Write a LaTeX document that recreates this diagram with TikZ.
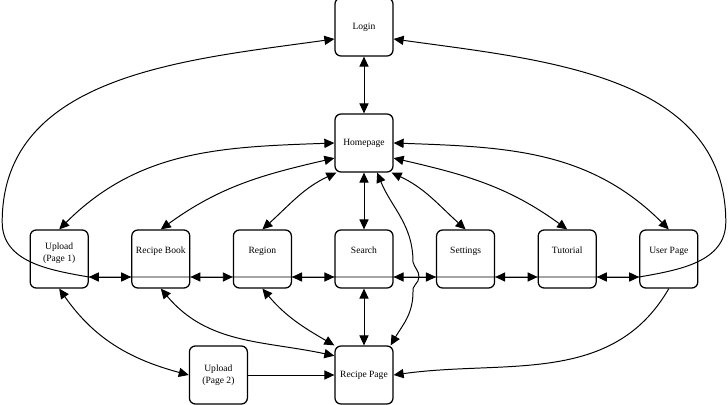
\documentclass[tikz,border=0pt]{standalone}
\usepackage{fontspec}
\setmainfont{Liberation Serif}
\usetikzlibrary{arrows.meta}

\tikzset{
    >={Triangle[length=2.5mm, width=2.3mm]},
    box/.style    = {draw, fill=white, rounded corners=1.5mm, line width=0.9pt,
                     minimum width=1.45cm, minimum height=1.45cm, align=center,
                     font=\fontsize{6.8}{8.5}\selectfont},
    rowbox/.style = {box, inner sep=0pt, text height=16.9pt, text depth=24.2pt}
}

\begin{document}
\begin{tikzpicture}[node distance = 2.9cm, line width = 0.7pt]
    \useasboundingbox (-9.1,0.675) rectangle (9.1,-9.45);

    \node [box]                                            (login)    {Login};
    \node [box, below of= login]                           (home)     {Homepage};
    \node [rowbox, below of= home]                         (search)   {Search};
    \node [rowbox, left of= search, xshift = 0.36cm]       (region)   {Region};
    \node [rowbox, left of= region, xshift = 0.36cm]       (book)     {Recipe Book};
    \node [rowbox, left of= book, xshift = 0.36cm,
           text height = 22.6pt, text depth = 18.5pt]      (upload1)  {Upload\\(Page 1)};
    \node [rowbox, right of= search, xshift = -0.36cm]     (settings) {Settings};
    \node [rowbox, right of= settings, xshift = -0.36cm]   (tutorial) {Tutorial};
    \node [rowbox, right of= tutorial, xshift = -0.36cm]   (user)     {User Page};
    \node [box, below of= search]                          (recipe)   {Recipe Page};
    \node [box, left of= recipe, xshift = -0.74cm]         (upload2)  {Upload\\(Page 2)};

    \coordinate [below of= search, node distance = 0.45cm] (row);
    \coordinate [right of= row, node distance = 1.375cm]   (hop);
    \coordinate (lbend) at ([xshift = -1.425cm, yshift = 0.925cm]upload1.center);
    \coordinate (rbend) at ([xshift = 1.425cm, yshift = 0.925cm]user.center);

    % middle column
    \path (login)   edge [<->] (home);
    \path (home)    edge [<->] (search);
    \path (search)  edge [<->] (recipe);

    % homepage to the row
    \path (home.west)  edge [<->, out=182, in=45]  (upload1.north);
    \path (home.207)   edge [<->, out=193, in=36]  (book.north);
    \path (home.227)   edge [<->, out=205, in=42]  (region.north);
    \path (home.313)   edge [<->, out=-25, in=138] (settings.north);
    \path (home.333)   edge [<->, out=-13, in=144] (tutorial.north);
    \path (home.east)  edge [<->, out=-2, in=135]  (user.north);
    \draw [<->] (home.294) to[out=-68, in=90] ([xshift=-0.15cm, yshift=0.375cm]hop)
          to[out=-75, in=90] (hop)
          to[out=-90, in=105] ([xshift=-0.15cm, yshift=-0.375cm]hop)
          to[out=-90, in=60] (recipe.48);

    % login round the row
    \draw [<->] (login.202) to[out=188, in=90] (lbend)
          to[out=-90, in=170] (upload1.east |- row) -- (user.west |- row)
          to[out=10, in=-90] (rbend) to[out=90, in=-8] (login.338);

    % along the row
    \path (upload1.east |- row)  edge [<->] (book.west |- row);
    \path (book.east |- row)     edge [<->] (region.west |- row);
    \path (region.east |- row)   edge [<->] (search.west |- row);
    \path (search.east |- row)   edge [<->] (settings.west |- row);
    \path (settings.east |- row) edge [<->] (tutorial.west |- row);
    \path (tutorial.east |- row) edge [<->] (user.west |- row);

    % down to the recipe page
    \path (upload1.south) edge [<->, out=-55, in=165]  (upload2.west);
    \path (book.south)    edge [<->, out=-50, in=168]  (recipe.147);
    \path (region.south)  edge [<->, out=-50, in=150]  (recipe.north west);
    \path (user.south)    edge [->, out=-120, in=8]    (recipe.east);
    \path (upload2)       edge [->]                    (recipe);
\end{tikzpicture}
\end{document}
